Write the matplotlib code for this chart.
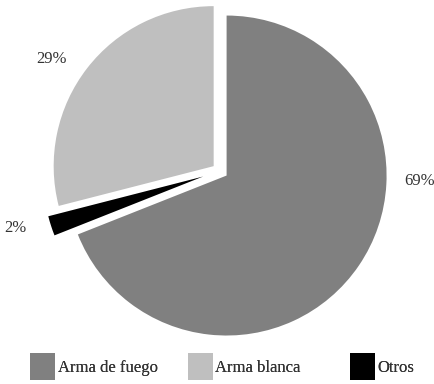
import matplotlib.pyplot as plt
from matplotlib.patches import Patch

plt.rcParams["font.family"] = ["Liberation Serif", "DejaVu Serif"]

categories = ["Arma de fuego", "Otros", "Arma blanca"]
shares = [69, 2, 29]
colors = ["#808080", "#000000", "#bfbfbf"]
explode = [0.05, 0.11, 0.05]

# where each percentage label sits (data units, pie radius = 1)
label_pos = [(1.245, -0.06), (-1.28, -0.355), (-1.05, 0.70)]

legend_order = ["Arma de fuego", "Arma blanca", "Otros"]
# left edge of each legend entry, in figure fraction
legend_x = [30 / 435, 188 / 435, 350 / 435]

fig = plt.figure(figsize=(4.35, 3.84), dpi=100)
ax = fig.add_axes([0, 0, 1, 1])

ax.pie(
    shares,
    colors=colors,
    explode=explode,
    startangle=90,
    counterclock=False,
    radius=1.0,
    wedgeprops={"linewidth": 0},
)
# pie() resets the limits, so set them afterwards
ax.set_xlim(-1.375, 1.344)
ax.set_ylim(-1.331, 1.069)
ax.set_aspect("equal")
ax.axis("off")

for val, (x, y) in zip(shares, label_pos):
    ax.text(x, y, f"{val}%", ha="center", va="center", fontsize=12, color="#333333")

color_of = dict(zip(categories, colors))
for name, x in zip(legend_order, legend_x):
    leg = fig.legend(
        handles=[Patch(facecolor=color_of[name], edgecolor="none", label=name)],
        loc="lower left",
        bbox_to_anchor=(x, 4 / 384),
        frameon=False,
        fontsize=12,
        handlelength=1.5,
        handleheight=2.1,
        handletextpad=0.15,
        borderpad=0,
        borderaxespad=0,
        labelcolor="#333333",
    )
    fig.add_artist(leg)

fig.savefig("out.png", dpi=100)
